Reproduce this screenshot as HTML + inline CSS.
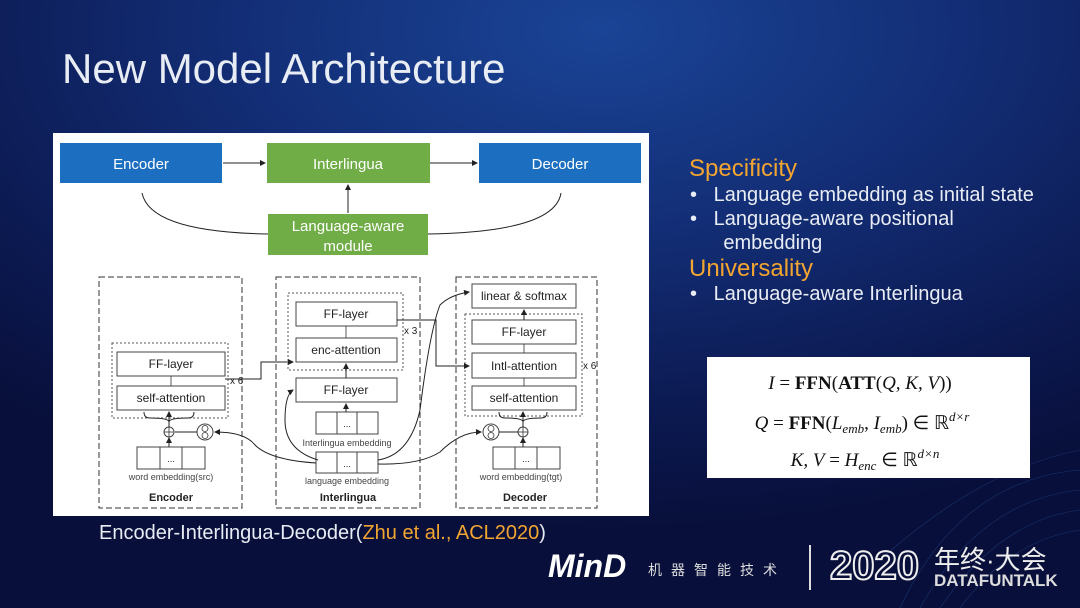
<!DOCTYPE html>
<html><head><meta charset="utf-8"><style>
html,body{margin:0;padding:0}
body{width:1080px;height:608px;overflow:hidden;position:relative;font-family:"Liberation Sans","Noto Sans CJK SC",sans-serif;
background:radial-gradient(ellipse 900px 500px at 600px 30px,#1a4496 0%,#132e76 40%,#0c1a52 75%,#080f3a 100%);}
.t{position:absolute;color:#e8ecf4;white-space:nowrap}
</style></head><body>
<div class="t" style="left:62px;top:45px;font-size:42px;font-weight:300;">New Model Architecture</div>

<svg style="position:absolute;left:0;top:0" width="1080" height="608" font-family="Liberation Sans, sans-serif">
<defs><marker id="a" markerWidth="6" markerHeight="6" refX="5" refY="3" orient="auto"><path d="M0,0 L6,3 L0,6z" fill="#222"/></marker></defs>
<g stroke="#3a74c8" stroke-width="0.6" fill="none" opacity="0.35">
<path d="M900,608 Q960,480 1080,470"/><path d="M920,608 Q980,500 1080,490"/><path d="M940,608 Q1000,520 1080,510"/><path d="M960,608 Q1010,540 1080,530"/><path d="M880,560 Q980,470 1080,450"/>
</g>
<rect x="53" y="133" width="596" height="383" fill="#fff"/>
<rect x="60" y="143" width="162" height="40" fill="#1c6fc0"/>
<rect x="267" y="143" width="163" height="40" fill="#70ad47"/>
<rect x="479" y="143" width="162" height="40" fill="#1c6fc0"/>
<rect x="268" y="214" width="160" height="41" fill="#70ad47"/>
<g fill="#fff" font-size="15" text-anchor="middle">
<text x="141" y="169">Encoder</text><text x="348" y="169">Interlingua</text><text x="560" y="169">Decoder</text>
<text x="348" y="231">Language-aware</text><text x="348" y="251">module</text></g>
<g stroke="#222" stroke-width="1" fill="none">
<line x1="223" y1="163" x2="265" y2="163" marker-end="url(#a)"/>
<line x1="430" y1="163" x2="477" y2="163" marker-end="url(#a)"/>
<line x1="348" y1="213" x2="348" y2="185" marker-end="url(#a)"/>
<path d="M142,193 Q150,232 268,234"/><path d="M561,193 Q555,232 428,234"/>
</g>
<g stroke="#333" stroke-width="1" fill="none" stroke-dasharray="6,3">
<rect x="99" y="277" width="143" height="231"/><rect x="276" y="277" width="144" height="231"/><rect x="456" y="277" width="141" height="231"/></g>
<g stroke="#555" stroke-width="1" fill="none" stroke-dasharray="2,2">
<rect x="112" y="343" width="116" height="75"/><rect x="288" y="293" width="115" height="77"/><rect x="465" y="314" width="117" height="102"/></g>
<g stroke="#444" stroke-width="1" fill="#fff">
<rect x="117" y="352" width="108" height="24"/><rect x="117" y="386" width="108" height="24"/>
<rect x="296" y="302" width="101" height="24"/><rect x="296" y="338" width="101" height="24"/><rect x="296" y="378" width="101" height="24"/>
<rect x="472" y="284" width="104" height="24"/><rect x="472" y="320" width="104" height="24"/><rect x="472" y="353" width="104" height="25"/><rect x="472" y="386" width="104" height="24"/>
<rect x="137" y="447" width="68" height="22"/><line x1="160" y1="447" x2="160" y2="469"/><line x1="182" y1="447" x2="182" y2="469"/>
<rect x="316" y="412" width="62" height="22"/><line x1="337" y1="412" x2="337" y2="434"/><line x1="357" y1="412" x2="357" y2="434"/>
<rect x="316" y="452" width="62" height="21"/><line x1="337" y1="452" x2="337" y2="473"/><line x1="357" y1="452" x2="357" y2="473"/>
<rect x="493" y="447" width="67" height="22"/><line x1="515" y1="447" x2="515" y2="469"/><line x1="537" y1="447" x2="537" y2="469"/>
<circle cx="169" cy="432" r="5"/><circle cx="205" cy="432" r="8"/><circle cx="491" cy="432" r="8"/><circle cx="523" cy="432" r="5"/>
</g>
<g stroke="#333" stroke-width="0.8" fill="none">
<line x1="164" y1="432" x2="174" y2="432"/><line x1="169" y1="427" x2="169" y2="437"/>
<line x1="518" y1="432" x2="528" y2="432"/><line x1="523" y1="427" x2="523" y2="437"/>
<ellipse cx="205" cy="428.5" rx="3" ry="3"/><ellipse cx="205" cy="435.5" rx="3" ry="3"/>
<ellipse cx="491" cy="428.5" rx="3" ry="3"/><ellipse cx="491" cy="435.5" rx="3" ry="3"/>
<line x1="171" y1="376" x2="171" y2="386"/><line x1="346" y1="326" x2="346" y2="338"/>
<line x1="524" y1="344" x2="524" y2="353"/><line x1="524" y1="378" x2="524" y2="386"/>
</g>
<g stroke="#222" stroke-width="1" fill="none">
<line x1="169" y1="447" x2="169" y2="438" marker-end="url(#a)"/>
<line x1="169" y1="427" x2="169" y2="412" marker-end="url(#a)"/>
<path d="M169,427 V422 Q169,418 150,418 Q144,418 144,412"/><path d="M169,427 V422 Q169,418 188,418 Q194,418 194,412"/>
<line x1="175" y1="432" x2="197" y2="432"/>
<line x1="523" y1="447" x2="523" y2="438" marker-end="url(#a)"/>
<line x1="523" y1="427" x2="523" y2="412" marker-end="url(#a)"/>
<path d="M523,427 V422 Q523,418 505,418 Q499,418 499,412"/><path d="M523,427 V422 Q523,418 541,418 Q547,418 547,412"/>
<line x1="499" y1="432" x2="518" y2="432"/>
<line x1="346" y1="412" x2="346" y2="404" marker-end="url(#a)"/>
<line x1="346" y1="378" x2="346" y2="364" marker-end="url(#a)"/>
<line x1="524" y1="320" x2="524" y2="310" marker-end="url(#a)"/>
<path d="M225,379 H261 V362 H293" marker-end="url(#a)"/>
<path d="M397,320 H436 V366 H469" marker-end="url(#a)"/>
<path d="M316,463 Q270,460 255,445 Q245,432 215,432" marker-end="url(#a)"/>
<path d="M318,460 Q285,450 285,420 Q285,395 293,390" marker-end="url(#a)"/>
<path d="M378,460 Q410,455 420,410 Q430,330 440,305 Q450,295 469,292" marker-end="url(#a)"/>
<path d="M378,464 Q420,465 440,452 Q460,432 481,432" marker-end="url(#a)"/>
</g>
<g fill="#222" font-size="12" text-anchor="middle">
<text x="171" y="368">FF-layer</text><text x="171" y="402">self-attention</text>
<text x="346" y="318">FF-layer</text><text x="346" y="354">enc-attention</text><text x="346" y="394">FF-layer</text>
<text x="524" y="300">linear &amp; softmax</text><text x="524" y="336">FF-layer</text><text x="524" y="370">Intl-attention</text><text x="524" y="402">self-attention</text>
<text x="171" y="462" font-size="9">...</text><text x="347" y="427" font-size="9">...</text><text x="347" y="467" font-size="9">...</text><text x="526" y="462" font-size="9">...</text>
<g font-size="9" fill="#444"><text x="171" y="480">word embedding(src)</text><text x="347" y="446">Interlingua embedding</text><text x="347" y="484">language embedding</text><text x="521" y="480">word embedding(tgt)</text></g>
<g font-size="11" font-weight="bold"><text x="171" y="501">Encoder</text><text x="348" y="501">Interlingua</text><text x="525" y="501">Decoder</text></g>
<g font-size="10" text-anchor="start"><text x="230" y="384">x 6</text><text x="404" y="334">x 3</text><text x="583" y="369">x 6</text></g>
</g>
<rect x="707" y="357" width="323" height="121" fill="#fff"/>
<g font-family="Liberation Serif, serif" font-size="19" fill="#111" text-anchor="middle">
<text x="860" y="389"><tspan font-style="italic">I</tspan> = <tspan font-weight="bold">FFN</tspan>(<tspan font-weight="bold">ATT</tspan>(<tspan font-style="italic">Q, K, V</tspan>))</text>
<text x="862" y="429"><tspan font-style="italic">Q</tspan> = <tspan font-weight="bold">FFN</tspan>(<tspan font-style="italic">L</tspan><tspan font-style="italic" font-size="13" dy="4">emb</tspan><tspan dy="-4">, </tspan><tspan font-style="italic">I</tspan><tspan font-style="italic" font-size="13" dy="4">emb</tspan><tspan dy="-4">) ∈ ℝ</tspan><tspan font-style="italic" font-size="13" dy="-8">d×r</tspan></text>
<text x="865" y="466"><tspan font-style="italic">K, V</tspan> = <tspan font-style="italic">H</tspan><tspan font-style="italic" font-size="13" dy="4">enc</tspan><tspan dy="-4"> ∈ ℝ</tspan><tspan font-style="italic" font-size="13" dy="-8">d×n</tspan></text>
</g>
<line x1="810" y1="545" x2="810" y2="590" stroke="#ddd" stroke-width="2"/>
</svg>

<div class="t" style="left:689px;top:155px;font-size:24px;color:#f2a531;">Specificity</div>
<div class="t" style="left:690px;top:183px;font-size:20px;font-weight:300;line-height:24px;">•&nbsp;&nbsp;&nbsp;Language embedding as initial state<br>•&nbsp;&nbsp;&nbsp;Language-aware positional<br>&nbsp;&nbsp;&nbsp;&nbsp;&nbsp;&nbsp;embedding</div>
<div class="t" style="left:689px;top:255px;font-size:24px;color:#f2a531;">Universality</div>
<div class="t" style="left:690px;top:283px;font-size:20px;font-weight:300;">•&nbsp;&nbsp;&nbsp;Language-aware Interlingua</div>
<div class="t" style="left:99px;top:522px;font-size:20px;font-weight:300;">Encoder-Interlingua-Decoder(<span style="color:#f2a531">Zhu et al., ACL2020</span>)</div>

<div class="t" style="left:548px;top:548px;font-size:32px;font-style:italic;font-weight:bold;color:#fff;">MinD</div>
<div class="t" style="left:648px;top:560px;font-size:14px;letter-spacing:9px;color:#ddd;">机器智能技术</div>
<div class="t" style="left:830px;top:544px;font-size:40px;font-weight:bold;color:transparent;-webkit-text-stroke:2px #eee;">2020</div>
<div class="t" style="left:934px;top:540px;font-size:26px;color:#eee;">年终·大会</div>
<div class="t" style="left:934px;top:571px;font-size:17px;font-weight:bold;color:#ddd;">DATAFUNTALK</div>
</body></html>
